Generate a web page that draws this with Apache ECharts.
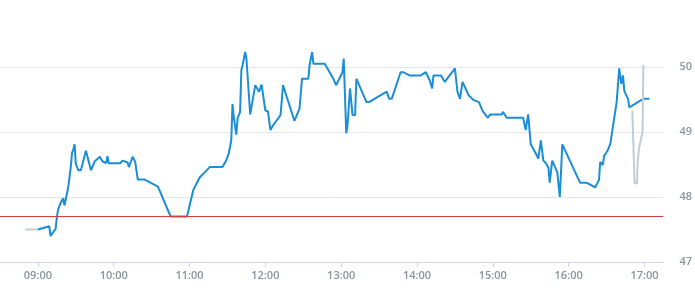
<!DOCTYPE html>
<html>
<head>
<meta charset="utf-8">
<script src="https://cdn.jsdelivr.net/npm/echarts@6/dist/echarts.min.js"></script>
<style>html,body{margin:0;padding:0;background:#fff}#c{width:695px;height:300px}</style>
</head>
<body>
<div id="c"></div>
<script>
// ---- data ----
const hourTicks = ['09:00','10:00','11:00','12:00','13:00','14:00','15:00','16:00','17:00'];
const yTicks = [47, 48, 49, 50];
const referenceLevel = 47.70;

const preTimes  = ['08:50','09:00'];
const preValues = [47.50, 47.50];

const mainTimes = ['09:00','09:09','09:10','09:14','09:15','09:16','09:18','09:20','09:21','09:24',
  '09:26','09:27','09:28','09:29','09:30','09:32','09:34','09:38','09:42','09:45',
  '09:49','09:51','09:54','09:55','09:56','10:05','10:07','10:11','10:12','10:15',
  '10:17','10:19','10:24','10:29','10:35','10:45','10:58','11:03','11:08','11:16',
  '11:26','11:29','11:31','11:33','11:34','11:35','11:36','11:37','11:38','11:40',
  '11:41','11:42','11:44','11:45','11:48','11:52','11:55','11:57','12:00','12:02',
  '12:04','12:06','12:07','12:12','12:14','12:23','12:27','12:29','12:34','12:35',
  '12:36','12:37','12:38','12:47','12:54','12:56','13:01','13:02','13:04','13:05',
  '13:07','13:09','13:11','13:12','13:20','13:22','13:36','13:38','13:40','13:47',
  '13:49','13:54','14:03','14:07','14:10','14:12','14:13','14:19','14:22','14:30',
  '14:32','14:34','14:36','14:41','14:45','14:49','14:52','14:56','14:58','15:07',
  '15:08','15:11','15:24','15:26','15:28','15:30','15:34','15:36','15:38','15:40',
  '15:42','15:44','15:45','15:47','15:49','15:51','15:53','15:55','16:09','16:14',
  '16:21','16:24','16:25','16:26','16:27','16:28','16:29','16:31','16:33','16:35',
  '16:38','16:40','16:41','16:41:40','16:43','16:44','16:45','16:47','16:48','16:59',
  '17:04'];
const mainValues = [47.50,47.55,47.40,47.51,47.69,47.81,47.91,47.98,47.87,48.15,
  48.46,48.68,48.73,48.81,48.51,48.41,48.41,48.71,48.41,48.55,
  48.62,48.55,48.52,48.63,48.52,48.52,48.56,48.53,48.46,48.62,
  48.54,48.27,48.27,48.22,48.16,47.70,47.70,48.11,48.30,48.46,
  48.46,48.56,48.67,48.87,49.43,49.23,49.21,48.96,49.21,49.31,
  49.95,50.03,50.23,50.13,49.27,49.72,49.62,49.73,49.33,49.32,
  49.03,49.10,49.07,49.26,49.72,49.17,49.36,49.82,49.82,50.03,
  50.03,50.23,50.05,50.05,49.81,49.72,49.92,50.13,48.98,49.10,
  49.67,49.26,49.26,49.82,49.46,49.46,49.62,49.51,49.51,49.92,
  49.92,49.87,49.87,49.92,49.80,49.67,49.87,49.87,49.77,49.98,
  49.62,49.51,49.77,49.56,49.49,49.46,49.32,49.22,49.27,49.27,
  49.31,49.22,49.22,49.03,49.27,48.81,48.67,48.59,48.87,48.56,
  48.52,48.45,48.22,48.56,48.47,48.38,48.00,48.81,48.22,48.22,
  48.15,48.26,48.54,48.56,48.49,48.63,48.61,48.72,48.82,49.08,
  49.46,49.98,49.96,49.74,49.87,49.64,49.59,49.51,49.38,49.51,
  49.51];

const postTimes  = ['16:50:24','16:51:30','16:52:12','16:54:06','16:54:30','16:55:42','16:58:30','16:59:06'];
const postValues = [49.33, 49.31, 48.21, 48.21, 48.51, 48.75, 49.00, 50.03];

// ---- helpers ----
function toMin(t){ const p=t.split(':').map(Number); return p[0]*60+p[1]+(p[2]||0)/60; }
function fmt(m){ const h=Math.floor(m/60), mm=Math.round(m-h*60); return String(h).padStart(2,'0')+':'+String(mm).padStart(2,'0'); }
function pairs(ts, vs){ return ts.map((t,i)=>[toMin(t), vs[i]]); }

const tickMins = hourTicks.map(toMin);
const labelStyle = { color:'#8a949f', fontSize:11, fontWeight:600, fontFamily:'"Open Sans", sans-serif' };

const chart = echarts.init(document.getElementById('c'), null, {renderer:'canvas'});
chart.setOption({
  animation:false,
  grid:{ left:0, right:31, top:2, bottom:38 },
  xAxis:{
    type:'value', min:toMin('08:30'), max:toMin('17:15'),
    axisLine:{ show:true, lineStyle:{ color:'#ccd6eb', width:1 } },
    axisTick:{ show:true, customValues:tickMins, length:5, lineStyle:{ color:'#ccd6eb' } },
    axisLabel:Object.assign({ customValues:tickMins, margin:8, formatter:v=>fmt(v) }, labelStyle),
    splitLine:{ show:false }
  },
  yAxis:{
    type:'value', position:'right', min:47, max:51, interval:1,
    axisLine:{ show:false }, axisTick:{ show:false },
    axisLabel:Object.assign({ margin:16, formatter:v=> yTicks.indexOf(v)>=0 ? String(v) : '' }, labelStyle),
    splitLine:{ show:true, lineStyle:{ color:['#e6e6e6','#e6e6e6','#e6e6e6','#e6e6e6','rgba(0,0,0,0)'], width:1 } }
  },
  series:[
    { type:'line', data:pairs(preTimes, preValues), symbol:'none', lineStyle:{ color:'#c3ccd5', width:2 }, silent:true },
    { type:'line', data:pairs(mainTimes, mainValues), symbol:'none', lineStyle:{ color:'#1a8ed8', width:2 }, silent:true,
      markLine:{ silent:true, symbol:'none', label:{ show:false },
        lineStyle:{ color:'#d33f3f', width:1, type:'solid' }, data:[{ yAxis:referenceLevel }] } },
    { type:'line', data:pairs(postTimes, postValues), symbol:'none', lineStyle:{ color:'#c3ccd5', width:2 }, silent:true }
  ]
});
</script>
</body>
</html>
